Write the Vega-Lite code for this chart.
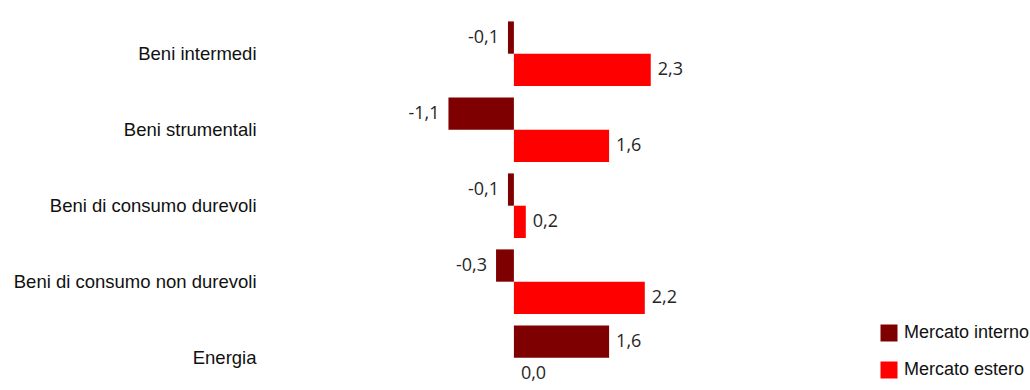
{
  "$schema": "https://vega.github.io/schema/vega-lite/v6.json",
  "autosize": "none",
  "width": 595,
  "height": 373,
  "padding": {"left": 264, "top": 17, "right": 171, "bottom": 0},
  "background": "white",
  "config": {
    "view": {"stroke": null},
    "locale": {"number": {"decimal": ",", "thousands": ".", "grouping": [3], "currency": ["€", ""], "minus": "-"}}
  },
  "data": {
    "values": [
      {"categoria": "Beni intermedi", "serie": "Mercato interno", "valore": -0.1},
      {"categoria": "Beni intermedi", "serie": "Mercato estero", "valore": 2.3},
      {"categoria": "Beni strumentali", "serie": "Mercato interno", "valore": -1.1},
      {"categoria": "Beni strumentali", "serie": "Mercato estero", "valore": 1.6},
      {"categoria": "Beni di consumo durevoli", "serie": "Mercato interno", "valore": -0.1},
      {"categoria": "Beni di consumo durevoli", "serie": "Mercato estero", "valore": 0.2},
      {"categoria": "Beni di consumo non durevoli", "serie": "Mercato interno", "valore": -0.3},
      {"categoria": "Beni di consumo non durevoli", "serie": "Mercato estero", "valore": 2.2},
      {"categoria": "Energia", "serie": "Mercato interno", "valore": 1.6},
      {"categoria": "Energia", "serie": "Mercato estero", "valore": 0.0}
    ]
  },
  "encoding": {
    "y": {
      "field": "categoria",
      "type": "nominal",
      "sort": ["Beni intermedi", "Beni strumentali", "Beni di consumo durevoli", "Beni di consumo non durevoli", "Energia"],
      "scale": {"paddingInner": 0.15, "paddingOuter": 0.029, "align": 1},
      "axis": {
        "title": null,
        "domain": false,
        "ticks": false,
        "labelPadding": 8,
        "labelFont": "Liberation Sans",
        "labelFontSize": 18.5,
        "labelColor": "#111111",
        "labelLimit": 400
      }
    },
    "yOffset": {
      "field": "serie",
      "type": "nominal",
      "sort": ["Mercato interno", "Mercato estero"],
      "scale": {"paddingInner": 0, "paddingOuter": 0}
    }
  },
  "layer": [
    {
      "mark": {"type": "bar"},
      "encoding": {
        "x": {
          "field": "valore",
          "type": "quantitative",
          "scale": {"domain": [-4.2, 5.8], "nice": false, "zero": false},
          "axis": null
        },
        "color": {
          "field": "serie",
          "type": "nominal",
          "sort": ["Mercato interno", "Mercato estero"],
          "scale": {"domain": ["Mercato interno", "Mercato estero"], "range": ["#7f0000", "#ff0000"]},
          "legend": {
            "title": null,
            "orient": "none",
            "legendX": 616,
            "legendY": 307,
            "symbolType": "square",
            "symbolSize": 289,
            "symbolStrokeWidth": 0,
            "symbolOpacity": 1,
            "labelFont": "Liberation Sans",
            "labelFontSize": 18,
            "labelColor": "#111111",
            "labelOffset": 6,
            "rowPadding": 19,
            "labelLimit": 300
          }
        }
      }
    },
    {
      "transform": [{"filter": "datum.valore >= 0"}],
      "mark": {"type": "text", "align": "left", "baseline": "middle", "dx": 7, "font": "Open Sans", "fontSize": 18, "color": "#262626"},
      "encoding": {
        "x": {"field": "valore", "type": "quantitative"},
        "text": {"field": "valore", "type": "quantitative", "format": ".1f"}
      }
    },
    {
      "transform": [{"filter": "datum.valore < 0"}],
      "mark": {"type": "text", "align": "right", "baseline": "middle", "dx": -9, "font": "Open Sans", "fontSize": 18, "color": "#262626"},
      "encoding": {
        "x": {"field": "valore", "type": "quantitative"},
        "text": {"field": "valore", "type": "quantitative", "format": ".1f"}
      }
    },
    {
      "mark": {"type": "rule", "color": "#000000", "strokeWidth": 1},
      "encoding": {
        "x": {"datum": 0, "type": "quantitative"}
      }
    }
  ]
}
